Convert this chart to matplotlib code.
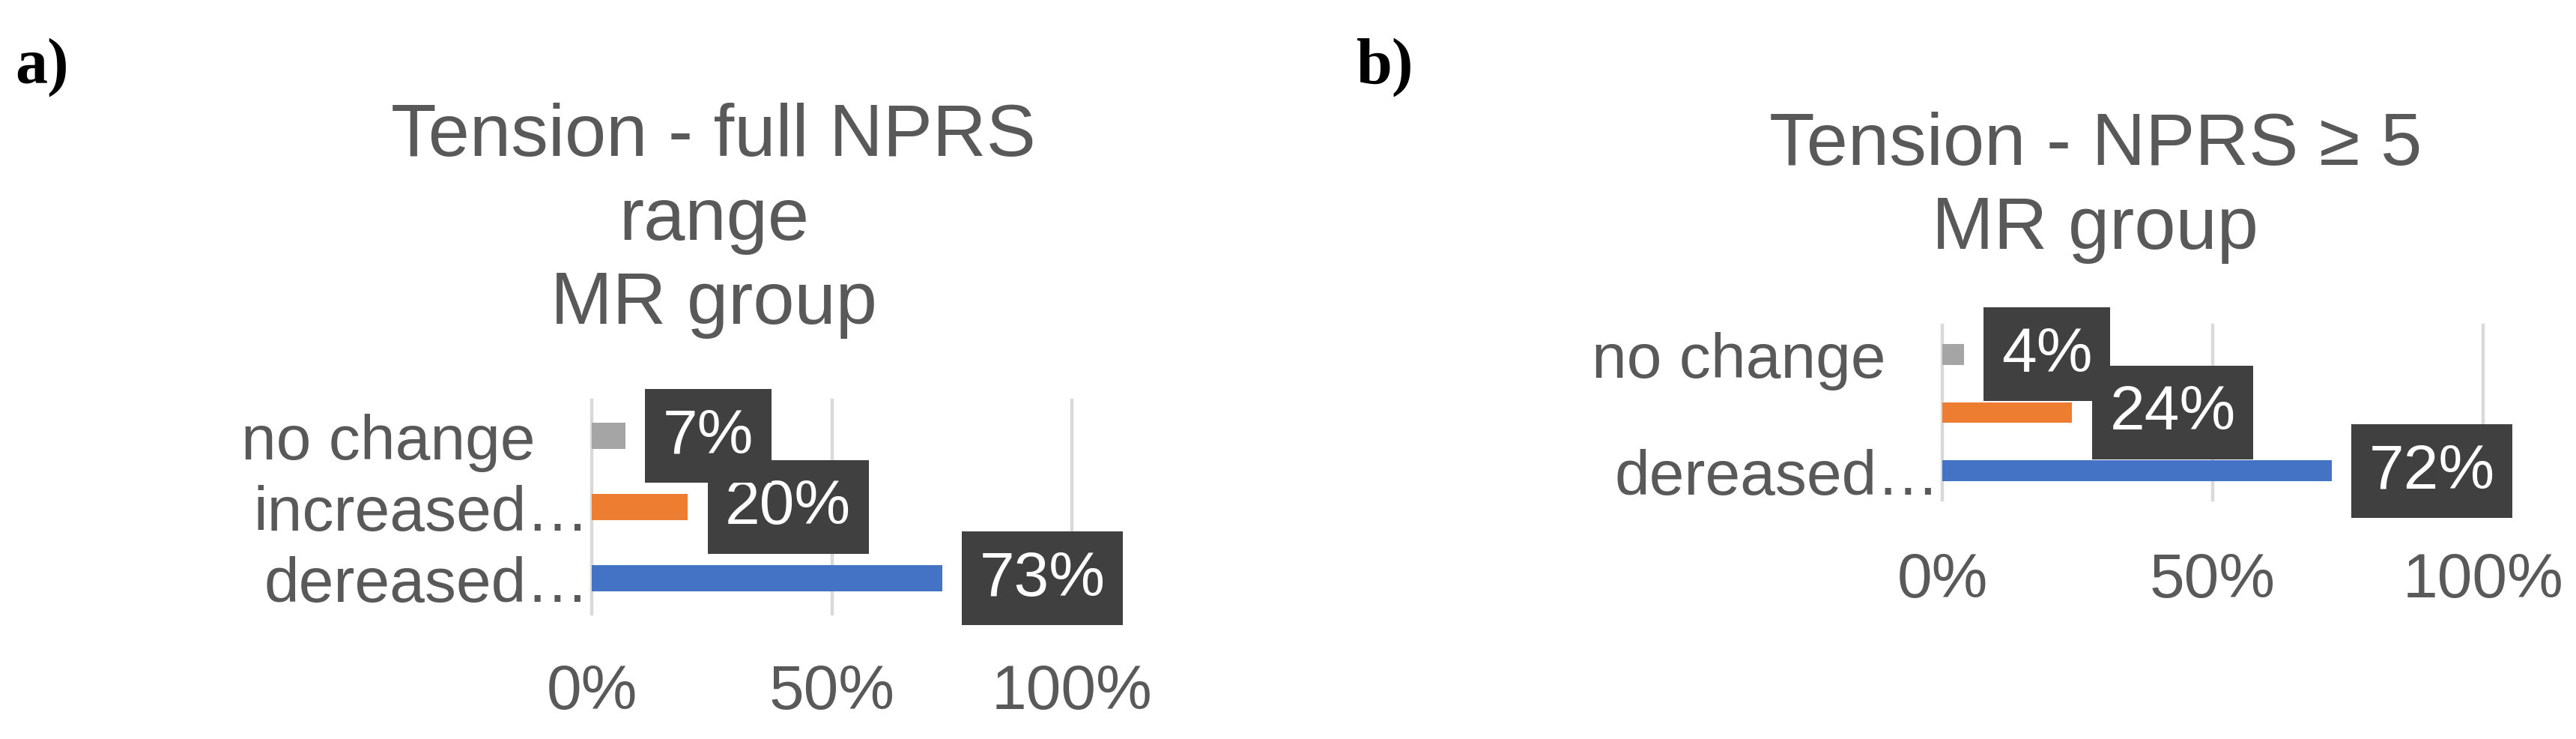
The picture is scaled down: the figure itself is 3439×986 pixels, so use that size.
import matplotlib
matplotlib.use('Agg')
import matplotlib.pyplot as plt

# categories listed bottom -> top (barh puts the first one at the bottom)
categories_a = ['dereased…', 'increased…', 'no change']
categories_b = ['dereased…', '', 'no change']  # Excel skipped the middle label here
values_a = [0.73, 0.20, 0.07]
values_b = [0.72, 0.24, 0.04]
titles = ['Tension - full NPRS\nrange\nMR group', 'Tension - NPRS ≥ 5\nMR group']
panel_tags = ['a)', 'b)']
xticks = [0, 0.5, 1.0]
xtick_labels = ['0%', '50%', '100%']
bar_colors = ['#4472C4', '#ED7D31', '#A5A5A5']

TEXT = '#595959'
BOX = '#404040'
GRID = '#D9D9D9'

W, H = 3439, 987
DPI = 100
plt.rcParams['font.family'] = ['Liberation Sans', 'DejaVu Sans']

fig = plt.figure(figsize=(W / DPI, H / DPI), dpi=DPI)


def px_rect(x0, y0, x1, y1):
    # pixel box (top-left origin) -> figure fraction rect
    return [x0 / W, 1 - y1 / H, (x1 - x0) / W, (y1 - y0) / H]


def draw_panel(ax, cats, vals, title, title_x, xlab_pad):
    ypos = range(len(cats))
    ax.barh(ypos, vals, height=0.36, color=bar_colors, zorder=2)
    ax.set_xlim(0, 1)
    ax.set_ylim(-0.5, len(cats) - 0.5)

    ax.set_xticks(xticks)
    ax.set_xticklabels(xtick_labels)
    ax.set_yticks(list(ypos))
    ax.set_yticklabels(cats)
    ax.tick_params(axis='x', length=0, pad=xlab_pad, labelsize=60.5, labelcolor=TEXT)
    ax.tick_params(axis='y', length=0, pad=2, labelsize=60.5, labelcolor=TEXT)

    # "no change" sits further left from the axis than the truncated ones
    for lbl in ax.get_yticklabels():
        if lbl.get_text() == 'no change':
            lbl.set_x(-73 / ax.bbox.width)

    for s in ax.spines.values():
        s.set_visible(False)
    ax.xaxis.grid(True, color=GRID, linewidth=3.2)
    for gl in ax.get_xgridlines():
        gl.set_clip_on(False)
    ax.set_axisbelow(True)

    # data labels in dark boxes
    for y, v in zip(ypos, vals):
        ax.annotate(f'{v:.0%}', xy=(v, y), xytext=(36, 0), textcoords='offset points',
                    ha='left', va='center', color='white', fontsize=60.5,
                    bbox=dict(boxstyle='square,pad=0.28', fc=BOX, ec='none'),
                    annotation_clip=False, zorder=3)

    ax.set_title(title, x=title_x, pad=74, fontsize=71.5, color=TEXT, linespacing=1.3)


ax_a = fig.add_axes(px_rect(790, 535, 1431, 820))
ax_b = fig.add_axes(px_rect(2593, 435, 3315, 668))

draw_panel(ax_a, categories_a, values_a, titles[0], 0.254, 47)
draw_panel(ax_b, categories_b, values_b, titles[1], 0.283, 49)

fig.text(20 / W, 1 - 110 / H, panel_tags[0], family='Liberation Serif', weight='bold',
         fontsize=62, va='baseline', ha='left', color='black')
fig.text(1811 / W, 1 - 110 / H, panel_tags[1], family='Liberation Serif', weight='bold',
         fontsize=62, va='baseline', ha='left', color='black')

fig.savefig('out.png', dpi=DPI, facecolor='white')
